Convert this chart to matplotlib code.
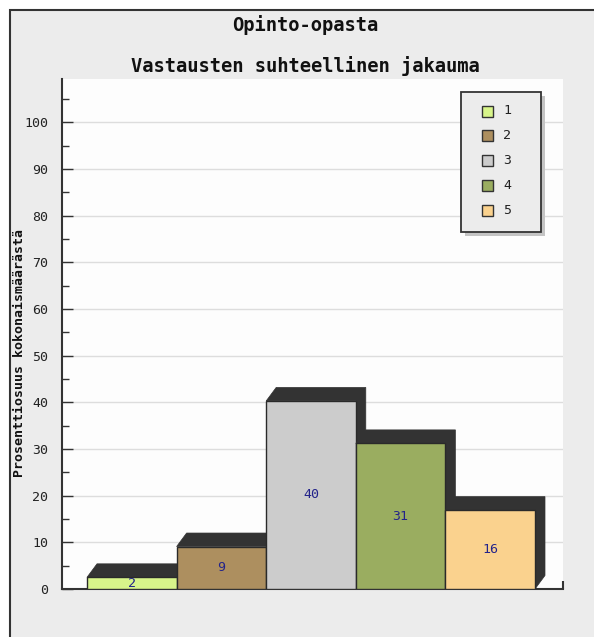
import matplotlib.pyplot as plt
from matplotlib.patches import Polygon, Rectangle

# answer distribution (percent of all answers)
categories = ['1', '2', '3', '4', '5']
percent = [2.5, 9.1, 40.3, 31.2, 16.9]
colors = ['#d8f58a', '#ad8f5f', '#cccccc', '#9aad60', '#fad28e']
yticks = [0, 10, 20, 30, 40, 50, 60, 70, 80, 90, 100]

W, H = 594, 637
fig = plt.figure(figsize=(W / 100, H / 100), dpi=100)
fig.patch.set_facecolor('white')

def fx(x):
    return x / W

def fy(y):
    return 1 - y / H

# grey panel behind everything
fig.patches.append(Rectangle((fx(10), fy(700)), fx(700), 690 / H, transform=fig.transFigure,
                             facecolor='#ececec', edgecolor='#333333', lw=1.5, zorder=-10))

ax = fig.add_axes([fx(62), fy(589), (563 - 62) / W, (589 - 79) / H])
ax.set_facecolor('#fdfdfd')

xmin, xmax = -25 / 89.6, (563 - 87) / 89.6
ymax = (589 - 79) / 4.667
ax.set_xlim(xmin, xmax)
ax.set_ylim(0, ymax)

# 3d-ish dark extrusion behind each bar
dx, dy = 10 / 89.6, 13.5 / 4.667
xs = list(range(len(percent)))
for i, v in enumerate(percent):
    x0, x1 = xs[i], xs[i] + 1
    shadow = Polygon([(x0, v), (x0 + dx, v + dy), (x1 + dx, v + dy), (x1 + dx, dy), (x1, 0), (x1, v)],
                     closed=True, facecolor='#333333', edgecolor='#333333', lw=0.5, zorder=2 + i * 2)
    ax.add_patch(shadow)
    b = ax.bar(x0, v, width=1, align='edge', color=colors[i], edgecolor='#2a2a2a', lw=1.0, zorder=3 + i * 2)
    ax.text(x0 + 0.5, v / 2, str(int(v)), ha='center', va='center', color='#23238a',
            family='DejaVu Sans Mono', fontsize=9.5, zorder=20)

for t in yticks[1:]:
    ax.axhline(t, color='#dddddd', lw=1, zorder=1)

ax.set_yticks(yticks)
ax.set_yticks([v + 5 for v in yticks], minor=True)
ax.tick_params(axis='y', which='major', direction='in', length=8, width=1, color='#333333',
               pad=10, labelsize=9.5, labelcolor='#222222')
ax.tick_params(axis='y', which='minor', direction='in', length=5, width=1, color='#333333')
for lab in ax.get_yticklabels():
    lab.set_family('DejaVu Sans Mono')
ax.set_xticks([xmax])
ax.set_xticklabels([''])
ax.tick_params(axis='x', direction='in', length=6, width=1.5, color='#333333')

for s in ['top', 'right']:
    ax.spines[s].set_visible(False)
for s in ['left', 'bottom']:
    ax.spines[s].set_color('#333333')
    ax.spines[s].set_linewidth(1.5)

fig.text(fx(305), fy(25), 'Opinto-opasta', ha='center', va='center', fontsize=13.5,
         fontweight='bold', family='DejaVu Sans Mono', color='#111111')
fig.text(fx(305), fy(66), 'Vastausten suhteellinen jakauma', ha='center', va='center', fontsize=13.5,
         fontweight='bold', family='DejaVu Sans Mono', color='#111111')
fig.text(fx(20), fy(353), 'Prosenttiosuus kokonaismäärästä', ha='center', va='center', rotation=90,
         fontsize=9.5, fontweight='bold', family='DejaVu Sans Mono', color='#111111')

# legend box with drop shadow
fig.patches.append(Rectangle((fx(465), fy(236)), 80 / W, 140 / H, transform=fig.transFigure,
                             facecolor='#c4c4c4', edgecolor='none', zorder=30))
fig.patches.append(Rectangle((fx(461), fy(232)), 80 / W, 140 / H, transform=fig.transFigure,
                             facecolor='#ececec', edgecolor='#333333', lw=1.3, zorder=31))
for i, (c, lab) in enumerate(zip(colors, categories)):
    yc = 111 + i * 24.8
    fig.patches.append(Rectangle((fx(482), fy(yc + 5.5)), 11 / W, 11 / H, transform=fig.transFigure,
                                 facecolor=c, edgecolor='#333333', lw=1, zorder=32))
    fig.text(fx(503), fy(yc), lab, ha='left', va='center', fontsize=9.5,
             family='DejaVu Sans Mono', color='#222222', zorder=33)

fig.savefig('out.png', dpi=100)
